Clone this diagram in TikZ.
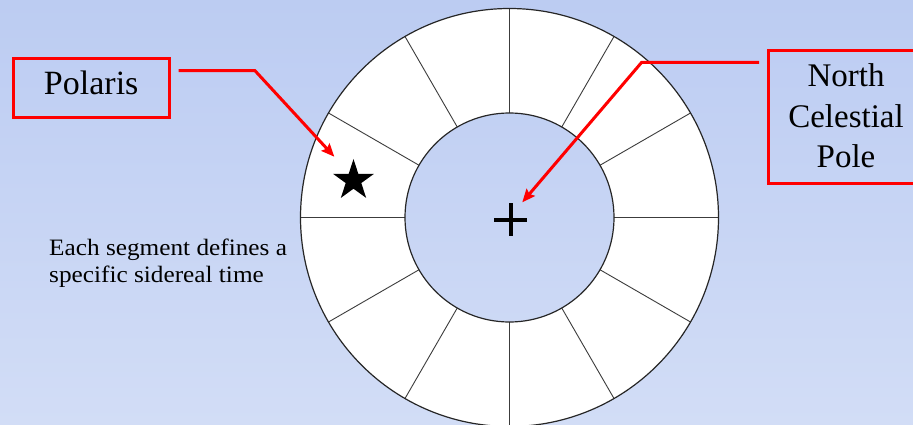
\documentclass[tikz,border=0pt]{standalone}
\usepackage{fontspec}
\setmainfont{Liberation Serif}
\newfontfamily\tnr{Liberation Serif}
\newfontfamily\capfont[FakeStretch=1.075]{Liberation Serif}
\usetikzlibrary{shapes.geometric,arrows.meta,calc}
\definecolor{bgtop}{RGB}{188,204,242}
\definecolor{bgbot}{RGB}{210,221,246}
\definecolor{spoke}{RGB}{60,60,60}
\definecolor{pred}{RGB}{255,0,0}
\tikzset{
  redbox/.style={draw=pred, line width=3pt, inner sep=0pt},
  redarrow/.style={draw=pred, line width=3pt, line join=miter,
    -{Stealth[length=13pt,width=11pt,inset=2pt]}},
  spokeline/.style={draw=spoke, line width=0.9pt},
  ringline/.style={draw=black!85, line width=1.2pt},
}
\begin{document}
\begin{tikzpicture}[x=1pt,y=-1pt]
\useasboundingbox (0,0) rectangle (913,425);
\clip (0,0) rectangle (913,425);
\shade[top color=bgtop, bottom color=bgbot] (0,0) rectangle (913,425);
% ring
\coordinate (C) at (509.5,217.5);
\fill[white, even odd rule] (C) circle[radius=209] (C) circle[radius=104.5];
\foreach \a in {0,30,...,330}{
  \draw[spokeline] ($(C)+(\a:104.5)$) -- ($(C)+(\a:209)$);
}
\draw[ringline] (C) circle[radius=209];
\draw[ringline] (C) circle[radius=104.5];
% plus at pole
\coordinate (P) at (510.7,219.5);
\draw[line width=4pt] ($(P)+(-16.5,0)$) -- ($(P)+(16.5,0)$);
\draw[line width=4pt] ($(P)+(0,-16.5)$) -- ($(P)+(0,16.5)$);
% star
\node[star, star points=5, star point ratio=2.618, fill=black, inner sep=0pt,
  minimum size=43pt] (star) at (353.5,180.5) {};
% Polaris box
\node[redbox, minimum width=156pt, minimum height=59.3pt, text height=23pt, text depth=9pt,
  font=\tnr\fontsize{34}{40}\selectfont] (polaris) at (91.2,87.9) {Polaris};
\coordinate (pa) at (178.5,70.7);
\coordinate (pb) at (255,70.7);
\coordinate (pc) at (334.3,156.7);
\draw[redarrow] (pa) -- (pb) -- (pc);
% NCP box
\draw[redbox] (768.2,50.5) rectangle (935,183.5);
\node[anchor=north, inner sep=0pt, align=center, font=\tnr\fontsize{33}{40.6}\selectfont]
  (ncp) at (846,63.5) {North\\Celestial\\Pole};
\coordinate (na) at (759,62.3);
\coordinate (nb) at (641.7,62.3);
\coordinate (nc) at (522.3,202.3);
\draw[redarrow] (na) -- (nb) -- (nc);
% caption
\node[anchor=north west, inner sep=0pt, align=left, font=\capfont\fontsize{23.5}{26.7}\selectfont]
  (cap) at (49,239) {Each segment defines a\\specific sidereal time};
\end{tikzpicture}
\end{document}
